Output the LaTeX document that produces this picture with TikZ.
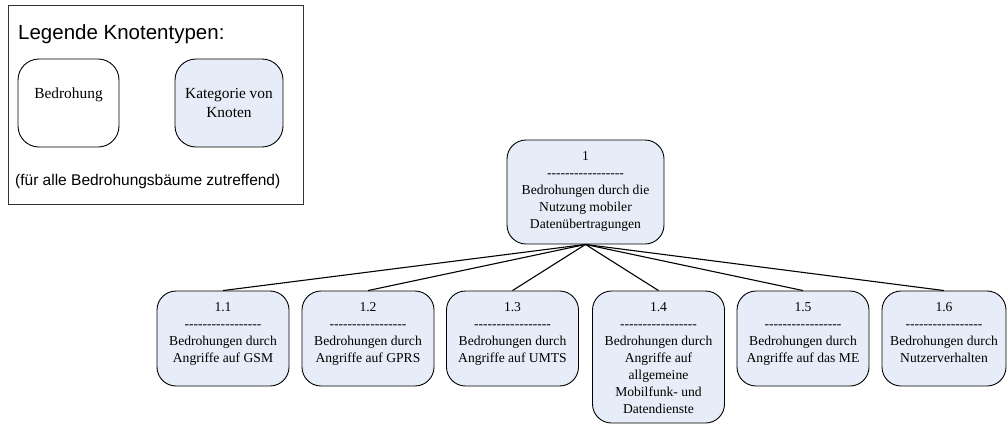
\documentclass[tikz,border=0pt]{standalone}
\usepackage{fontspec}
\setmainfont{Liberation Serif}
\newfontfamily\legendsans{Liberation Sans}
\definecolor{katfill}{RGB}{231,237,248}

% a row of 17 single hyphens (kerns keep them from joining into dashes)
\newcommand\hyph{-\kern0pt}
\newcommand\dashrow{\hyph\hyph\hyph\hyph\hyph\hyph\hyph\hyph\hyph\hyph\hyph\hyph\hyph\hyph\hyph\hyph-}
% top-aligned centred text block: height, width, first baseline, content
\newcommand\boxtext[4]{\parbox[c][#1][t]{#2}{\centering\rule{0pt}{#3}#4\par}}

\tikzset{
  treebox/.style={draw, fill=katfill, rounded corners=19pt, inner sep=0pt,
    line width=0.9pt, font=\fontsize{13.6}{17}\selectfont},
  legendbox/.style={draw, rounded corners=21pt, inner sep=0pt,
    line width=0.9pt, font=\fontsize{15.4}{19}\selectfont},
  edge/.style={line width=1.1pt},
}

\begin{document}
\begin{tikzpicture}[x=1pt, y=-1pt]
\useasboundingbox (0,0) rectangle (1008,424);

% legend
\node[draw=black!80, line width=1pt, minimum width=295pt, minimum height=199pt,
      inner sep=0pt] (legend) at (155.5,104.5) {};
\node[anchor=base west, inner sep=0pt, font=\legendsans\fontsize{20.5}{24}\selectfont]
      (legtitle) at (18,39) {Legende Knotentypen:};
\node[legendbox] (legbed) at (68.5,103)
      {\boxtext{88pt}{101pt}{39.5pt}{Bedrohung}};
\node[legendbox, fill=katfill] (legkat) at (229,103)
      {\boxtext{88pt}{108pt}{39.5pt}{Kategorie von\\Knoten}};
\node[anchor=base west, inner sep=0pt, font=\legendsans\fontsize{15.5}{18}\selectfont]
      (legnote) at (15,185) {(für alle Bedrohungsbäume zutreffend)};

% threat tree
\node[treebox] (root) at (585.5,192)
  {\boxtext{104pt}{157pt}{20pt}{1\\\dashrow\\Bedrohungen durch die\\Nutzung mobiler\\Datenübertragungen}};

\node[treebox] (c1) at (223,338.5)
  {\boxtext{95pt}{132pt}{20pt}{1.1\\\dashrow\\Bedrohungen durch\\Angriffe auf GSM}};
\node[treebox] (c2) at (368,338.5)
  {\boxtext{95pt}{132pt}{20pt}{1.2\\\dashrow\\Bedrohungen durch\\Angriffe auf GPRS}};
\node[treebox] (c3) at (512.5,338.5)
  {\boxtext{95pt}{132pt}{20pt}{1.3\\\dashrow\\Bedrohungen durch\\Angriffe auf UMTS}};
\node[treebox] (c4) at (658.5,357)
  {\boxtext{132pt}{132pt}{20pt}{1.4\\\dashrow\\Bedrohungen durch\\Angriffe auf\\allgemeine\\Mobilfunk- und\\Datendienste}};
\node[treebox] (c5) at (803,338.5)
  {\boxtext{95pt}{132pt}{20pt}{1.5\\\dashrow\\Bedrohungen durch\\Angriffe auf das ME}};
\node[treebox] (c6) at (944,338.5)
  {\boxtext{95pt}{124pt}{20pt}{1.6\\\dashrow\\Bedrohungen durch\\Nutzerverhalten}};

\foreach \c in {c1,c2,c3,c4,c5,c6}
  \draw[edge] (root.south) -- (\c.north);
\end{tikzpicture}
\end{document}
